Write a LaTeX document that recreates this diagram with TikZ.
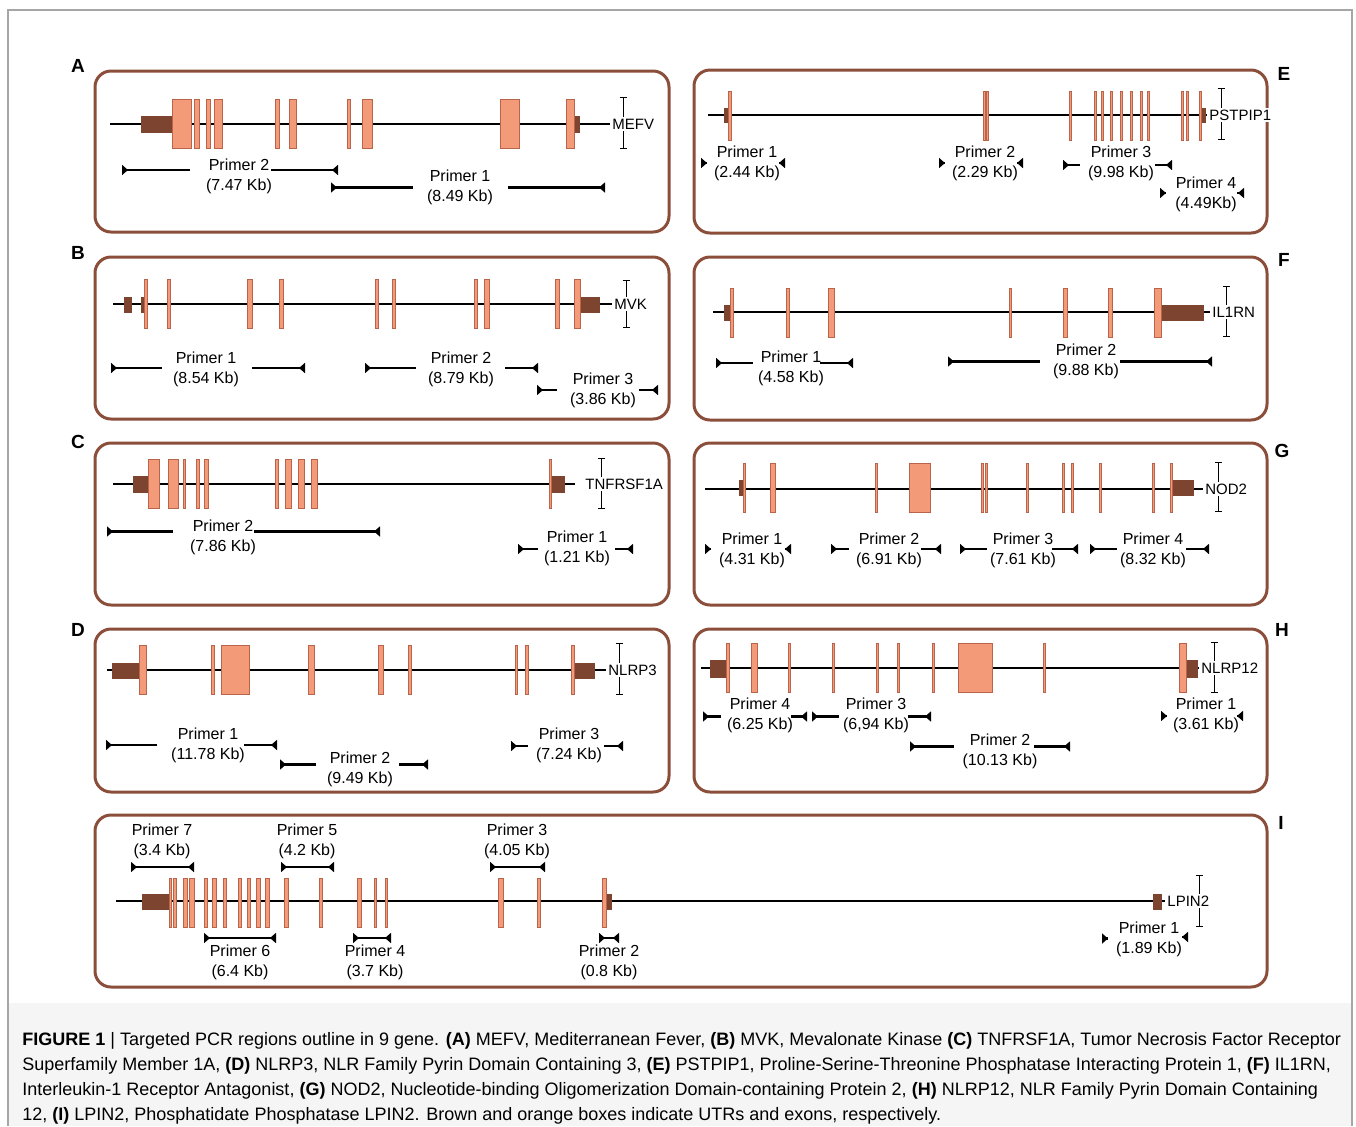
\documentclass[tikz,border=0pt]{standalone}
\usepackage{fontspec}
\setmainfont{Liberation Sans}
\usepackage{tikz}
\usetikzlibrary{arrows.meta,positioning}
\definecolor{boxbrown}{RGB}{139,78,58}
\definecolor{utrbrown}{RGB}{125,68,48}
\definecolor{exonorange}{RGB}{243,155,120}
\definecolor{exonedge}{RGB}{185,100,75}

\begin{document}
\begin{tikzpicture}[x=0.5pt, y=-0.5pt,
    genebox/.style={draw=boxbrown, line width=1.5pt, rounded corners=8pt},
    intron/.style={line width=1.4pt},
    utr/.style={fill=utrbrown, draw=utrbrown, line width=0.3pt},
    exon/.style={fill=exonorange, draw=exonedge, line width=0.4pt},
    ibar/.style={line width=0.4pt, {Bar[width=3.5pt]}-{Bar[width=3.5pt]}},
    gene/.style={font=\fontsize{7.5}{9}\selectfont, inner sep=1pt, fill=white, anchor=west},
    plabel/.style={font=\fontsize{8}{10}\selectfont, align=center, inner sep=0pt},
    panel/.style={font=\bfseries\fontsize{9.5}{11}\selectfont},
    bar/.style={line width=1.4pt},
    pfwd/.style={bar, {Triangle[reversed, width=5pt, length=3pt]}-},
    prev/.style={bar, -{Triangle[reversed, width=5pt, length=3pt]}},
    pboth/.style={bar, {Triangle[reversed, width=5pt, length=3pt]}-{Triangle[reversed, width=5pt, length=3pt]}}]

    \useasboundingbox (0,0) rectangle (1356,1126);
    \fill[black!4] (8,1003) rectangle (1352,1126);
    \draw[black!35, line width=0.6pt] (8,1126) -- (8,10) -- (1352,10) -- (1352,1126);

    % Panel frames and letters
    \draw[genebox] (95,71) rectangle (669,232);
    \draw[genebox] (95,257) rectangle (669,419);
    \draw[genebox] (95,443) rectangle (669,605);
    \draw[genebox] (95,629) rectangle (669,792);
    \draw[genebox] (694,70) rectangle (1267,233);
    \draw[genebox] (694,257) rectangle (1267,420);
    \draw[genebox] (694,443) rectangle (1267,605);
    \draw[genebox] (694,629) rectangle (1267,792);
    \draw[genebox] (95,815) rectangle (1267,987);
    \foreach \l/\x/\y in {A/78/66, B/78/253, C/78/442, D/78/630, E/1284/74, F/1284/260, G/1282/451, H/1282/630, I/1281/823} {
        \node[panel] (l\l) at (\x,\y) {\l};
    }

    % A: MEFV
    \draw[ibar] (623,97) -- (623,149);
    \node[gene] (mefv) at (610,124) {MEFV};
    \draw[intron] (110,124) -- (mefv.west);
    \foreach \a/\b in {141/172, 574/579} { \draw[utr] (\a,116) rectangle (\b,132); }
    \foreach \a/\b in {172/191, 194/199, 206/210, 214/222, 275/279, 289/296, 347/350, 362/372, 500/519, 566/574} {
        \draw[exon] (\a,99) rectangle (\b,148);
    }
    \foreach \a/\b/\c/\d/\y in {122/190/271/338/170, 331/413/508/605/187.5} {
        \draw[pfwd] (\a,\y) -- (\b,\y); \draw[prev] (\c,\y) -- (\d,\y);
    }
    \node[plabel] (a2) at (239,176.5) {Primer 2\\(7.47 Kb)};
    \node[plabel] (a1) at (460,187) {Primer 1\\(8.49 Kb)};

    % B: MVK
    \draw[ibar] (626,280) -- (626,328);
    \node[gene] (mvk) at (612,304) {MVK};
    \draw[intron] (113,304) -- (mvk.west);
    \foreach \a/\b in {124/131, 141/145, 580/599} { \draw[utr] (\a,297) rectangle (\b,312); }
    \foreach \a/\b in {144/147, 167/170, 247/252, 279/283, 375/378, 392/395, 474/477, 484/489, 555/559, 574/580} {
        \draw[exon] (\a,279) rectangle (\b,328);
    }
    \foreach \a/\b/\c/\d/\y in {111/162/252/305/368, 365/416/505/538/368, 537/557/639/658/390} {
        \draw[pfwd] (\a,\y) -- (\b,\y); \draw[prev] (\c,\y) -- (\d,\y);
    }
    \node[plabel] (b1) at (206,369) {Primer 1\\(8.54 Kb)};
    \node[plabel] (b2) at (461,369) {Primer 2\\(8.79 Kb)};
    \node[plabel] (b3) at (603,390) {Primer 3\\(3.86 Kb)};

    % C: TNFRSF1A
    \draw[ibar] (601,458) -- (601,509);
    \node[gene] (tnf) at (583,484) {TNFRSF1A};
    \draw[intron] (113,484) -- ([xshift=-4pt]tnf.west);
    \foreach \a/\b in {133/148, 551/564} { \draw[utr] (\a,476) rectangle (\b,492); }
    \foreach \a/\b in {148/159, 168/178, 183/185, 196/199, 204/208, 275/278, 285/291, 298/304, 311/317, 549/551} {
        \draw[exon] (\a,459) rectangle (\b,508);
    }
    \foreach \a/\b/\c/\d/\y in {107/173/254/380/531.5, 518/538/615/633/549} {
        \draw[pfwd] (\a,\y) -- (\b,\y); \draw[prev] (\c,\y) -- (\d,\y);
    }
    \node[plabel] (c2) at (223,537) {Primer 2\\(7.86 Kb)};
    \node[plabel] (c1) at (577,548.5) {Primer 1\\(1.21 Kb)};

    % D: NLRP3
    \draw[ibar] (619,643) -- (619,695);
    \node[gene] (nlrpt) at (606,670) {NLRP3};
    \draw[intron] (107,670) -- (nlrpt.west);
    \foreach \a/\b in {112/139, 574/594} { \draw[utr] (\a,663) rectangle (\b,678); }
    \foreach \a/\b in {139/146, 211/214, 221/249, 308/314, 378/383, 408/411, 515/517, 525/528, 571/574} {
        \draw[exon] (\a,645) rectangle (\b,694);
    }
    \foreach \a/\b/\c/\d/\y in {106/157/244/277/745, 280/316/399/428/764.5, 511/528/604/623/746} {
        \draw[pfwd] (\a,\y) -- (\b,\y); \draw[prev] (\c,\y) -- (\d,\y);
    }
    \node[plabel] (d1) at (208,745) {Primer 1\\(11.78 Kb)};
    \node[plabel] (d2) at (360,769.5) {Primer 2\\(9.49 Kb)};
    \node[plabel] (d3) at (569,745) {Primer 3\\(7.24 Kb)};

    % E: PSTPIP1
    \draw[ibar] (1221,88) -- (1221,140);
    \node[gene] (pstpip) at (1207,115) {PSTPIP1};
    \draw[intron] (708,115) -- (pstpip.west);
    \foreach \a/\b in {724/730, 1201/1205} { \draw[utr] (\a,108) rectangle (\b,122); }
    \foreach \a/\b in {728/731, 983/985.5, 986/988.5, 1069/1071.5, 1094/1096, 1101.5/1103.5, 1110/1112, 1120/1122.5, 1130/1132, 1140.5/1142.5, 1147.5/1149.5, 1181/1183, 1186.5/1188.5, 1199/1201} {
        \draw[exon] (\a,91) rectangle (\b,140);
    }
    \foreach \a/\b/\c/\d/\y in {701/707/779/785/163, 939/945/1017/1023/163, 1063/1080/1155/1172/165, 1160/1166/1237/1244/193} {
        \draw[pfwd] (\a,\y) -- (\b,\y); \draw[prev] (\c,\y) -- (\d,\y);
    }
    \node[plabel] (e1) at (747,163.5) {Primer 1\\(2.44 Kb)};
    \node[plabel] (e2) at (985,163.5) {Primer 2\\(2.29 Kb)};
    \node[plabel] (e3) at (1121,163.5) {Primer 3\\(9.98 Kb)};
    \node[plabel] (e4) at (1206,194) {Primer 4\\(4.49Kb)};

    % F: IL1RN
    \draw[ibar] (1226,286) -- (1226,337);
    \node[gene] (ilrn) at (1210,312) {IL1RN};
    \draw[intron] (713,312) -- (ilrn.west);
    \foreach \a/\b in {724/730, 1161/1203} { \draw[utr] (\a,305) rectangle (\b,320); }
    \foreach \a/\b in {730/733, 786/789, 828/834, 1009.5/1011.5, 1063/1067, 1108/1112, 1154/1161} {
        \draw[exon] (\a,288) rectangle (\b,337);
    }
    \foreach \a/\b/\c/\d/\y in {716/753/820/853/363, 948/1040/1120/1212/361.5} {
        \draw[pfwd] (\a,\y) -- (\b,\y); \draw[prev] (\c,\y) -- (\d,\y);
    }
    \node[plabel] (f1) at (791,368.5) {Primer 1\\(4.58 Kb)};
    \node[plabel] (f2) at (1086,361.5) {Primer 2\\(9.88 Kb)};

    % G: NOD2
    \draw[ibar] (1218,462) -- (1218,512);
    \node[gene] (nod) at (1203,489) {NOD2};
    \draw[intron] (705,489) -- (nod.west);
    \foreach \a/\b in {739/744, 1172/1193} { \draw[utr] (\a,480) rectangle (\b,495); }
    \foreach \a/\b in {743/745, 770/775, 875/877, 909/930, 981/983, 985/987, 1026/1028.5, 1062/1064, 1071.5/1073.5, 1099/1101, 1152/1154, 1170/1172} {
        \draw[exon] (\a,463) rectangle (\b,512);
    }
    \foreach \a/\b/\c/\d/\y in {705/711/785/791/549, 831/849/921/941/549, 960/987/1052/1078/549, 1090/1117/1186/1209/549} {
        \draw[pfwd] (\a,\y) -- (\b,\y); \draw[prev] (\c,\y) -- (\d,\y);
    }
    \node[plabel] (g1) at (752,550.5) {Primer 1\\(4.31 Kb)};
    \node[plabel] (g2) at (889,550.5) {Primer 2\\(6.91 Kb)};
    \node[plabel] (g3) at (1023,550.5) {Primer 3\\(7.61 Kb)};
    \node[plabel] (g4) at (1153,550.5) {Primer 4\\(8.32 Kb)};

    % H: NLRP12
    \draw[ibar] (1214,642) -- (1214,693);
    \node[gene] (nlrpd) at (1199,668) {NLRP12};
    \draw[intron] (701,668) -- (nlrpd.west);
    \foreach \a/\b in {710/727, 1186/1197} { \draw[utr] (\a,660) rectangle (\b,677); }
    \foreach \a/\b in {726/729, 751/757, 788/790.5, 832/834.5, 876/878.5, 897/899.5, 932/934.5, 958/992, 1043/1045.5, 1179/1186} {
        \draw[exon] (\a,643) rectangle (\b,692);
    }
    \foreach \a/\b/\c/\d/\y in {703/721/791/807/716.5, 812/839/908/931/716.5, 910/954/1034/1070/746.5, 1161/1167/1237/1243/716} {
        \draw[pfwd] (\a,\y) -- (\b,\y); \draw[prev] (\c,\y) -- (\d,\y);
    }
    \node[plabel] (h4) at (760,715.5) {Primer 4\\(6.25 Kb)};
    \node[plabel] (h3) at (876,715.5) {Primer 3\\(6,94 Kb)};
    \node[plabel] (h2) at (1000,751.5) {Primer 2\\(10.13 Kb)};
    \node[plabel] (h1) at (1206,715.5) {Primer 1\\(3.61 Kb)};

    % I: LPIN2
    \draw[ibar] (1199,875) -- (1199,927);
    \node[gene] (lpin) at (1165,901) {LPIN2};
    \draw[intron] (116,901) -- (lpin.west);
    \foreach \a/\b in {142/169, 606/611, 1153/1161} { \draw[utr] (\a,894) rectangle (\b,909); }
    \foreach \a/\b in {169/171.5, 173/176, 183/187, 189.5/194, 204/207, 212.5/216.5, 223/226.5, 238.5/241.5, 247/250, 256.5/260.5, 265.5/269, 284.5/288, 319/322, 357/361, 374.5/376.5, 385/387, 498.5/503, 537/540, 602/606} {
        \draw[exon] (\a,878) rectangle (\b,927);
    }
    \foreach \a/\b/\y in {131/194/867, 281/334/867, 490/545/867, 204/276/938, 353/391/938, 599/619/938} {
        \draw[pboth] (\a,\y) -- (\b,\y);
    }
    \draw[pfwd] (1102,938.5) -- (1108,938.5); \draw[prev] (1182,937) -- (1188,937);
    \node[plabel] (i7) at (162,841) {Primer 7\\(3.4 Kb)};
    \node[plabel] (i5) at (307,841) {Primer 5\\(4.2 Kb)};
    \node[plabel] (i3) at (517,841) {Primer 3\\(4.05 Kb)};
    \node[plabel] (i6) at (240,962.5) {Primer 6\\(6.4 Kb)};
    \node[plabel] (i4) at (375,962.5) {Primer 4\\(3.7 Kb)};
    \node[plabel] (i2) at (609,962.5) {Primer 2\\(0.8 Kb)};
    \node[plabel] (i1) at (1149,939.5) {Primer 1\\(1.89 Kb)};

    % Caption
    \node[anchor=north west, inner sep=0pt, align=left, font=\fontsize{9}{12.5}\selectfont] (caption) at (22,1032) {%
        \textbf{FIGURE 1} | Targeted PCR regions outline in 9 gene. \textbf{(A)} MEFV, Mediterranean Fever, \textbf{(B)} MVK, Mevalonate Kinase \textbf{(C)} TNFRSF1A, Tumor Necrosis Factor Receptor\\
        Superfamily Member 1A, \textbf{(D)} NLRP3, NLR Family Pyrin Domain Containing 3, \textbf{(E)} PSTPIP1, Proline-Serine-Threonine Phosphatase Interacting Protein 1, \textbf{(F)} IL1RN,\\
        Interleukin-1 Receptor Antagonist, \textbf{(G)} NOD2, Nucleotide-binding Oligomerization Domain-containing Protein 2, \textbf{(H)} NLRP12, NLR Family Pyrin Domain Containing\\
        12, \textbf{(I)} LPIN2, Phosphatidate Phosphatase LPIN2. Brown and orange boxes indicate UTRs and exons, respectively.};
\end{tikzpicture}
\end{document}
